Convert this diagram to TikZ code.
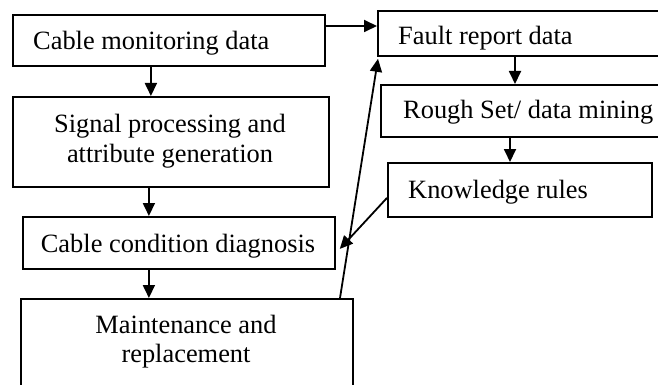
\documentclass[tikz,border=0pt]{standalone}
\usepackage{fontspec}
\setmainfont{Liberation Serif}
\usetikzlibrary{arrows.meta}
\tikzset{
  box/.style={draw, line width=1.8pt, rectangle, inner sep=0pt, anchor=north west},
  txt/.style={font=\fontsize{26.4}{30}\selectfont, inner sep=0pt},
  flow/.style={line width=1.8pt, -{Triangle[length=13pt,width=12pt]}},
}
\begin{document}
\begin{tikzpicture}[x=1pt, y=-1pt]
  \useasboundingbox (0,0) rectangle (658,385);
  \clip (0,0) rectangle (658,385);

  % left column
  \node[box, minimum width=312pt, minimum height=51pt] (mon) at (12,14) {};
  \node[txt, anchor=base west] at (33,50) {Cable monitoring data};

  \node[box, minimum width=316pt, minimum height=90pt] (sig) at (12,96) {};
  \node[txt, anchor=base] at (170,132) {Signal processing and};
  \node[txt, anchor=base] at (170,162) {attribute generation};

  \node[box, minimum width=312pt, minimum height=52pt] (cond) at (22,216) {};
  \node[txt, anchor=base] at (178,252) {Cable condition diagnosis};

  \node[box, minimum width=332pt, minimum height=110pt] (maint) at (20,298) {};
  \node[txt, anchor=base] at (186,333) {Maintenance and};
  \node[txt, anchor=base] at (186,362) {replacement};

  % right column
  \node[box, minimum width=303pt, minimum height=45pt] (fault) at (377,10) {};
  \node[txt, anchor=base west] at (398,45) {Fault report data};

  \node[box, minimum width=300pt, minimum height=52pt] (rough) at (380,84) {};
  \node[txt, anchor=base west] at (403,118) {Rough Set/ data mining};

  \node[box, minimum width=264pt, minimum height=54pt] (know) at (387,162) {};
  \node[txt, anchor=base west] at (408,198) {Knowledge rules};

  % connectors
  \draw[flow] ([yshift=-12pt]mon.north east) -- ([yshift=-16pt]fault.north west);
  \draw[flow] ([xshift=-18pt]mon.south) -- ([xshift=-20pt]sig.north);
  \draw[flow] ([xshift=-22pt]sig.south) -- ([xshift=-30pt]cond.north);
  \draw[flow] ([xshift=-30pt]cond.south) -- ([xshift=-38pt]maint.north);
  \draw[flow] ([xshift=138pt]fault.south west) -- ([xshift=135pt]rough.north west);
  \draw[flow] ([xshift=130pt]rough.south west) -- ([xshift=123pt]know.north west);
  \draw[flow] ([yshift=-8pt]know.west) -- ([shift={(4pt,-6pt)}]cond.east);
  \draw[flow] ([xshift=320pt]maint.north west) -- ([shift={(1pt,-2pt)}]fault.south west);
\end{tikzpicture}
\end{document}
